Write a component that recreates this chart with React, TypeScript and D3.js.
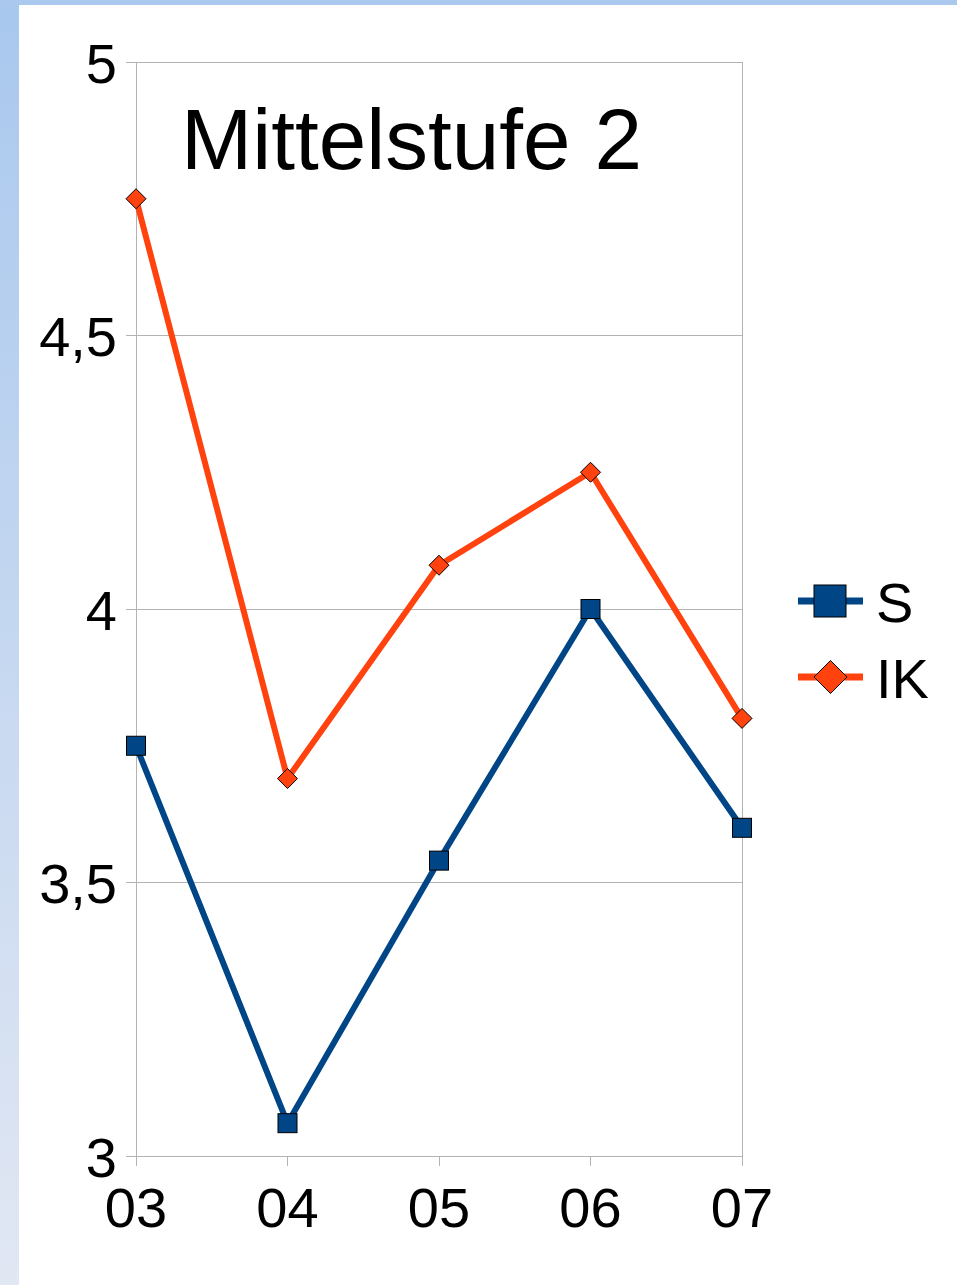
import React from "react";
import * as d3 from "d3";

const categories = ["03", "04", "05", "06", "07"];
const seriesS = [3.75, 3.06, 3.54, 4.0, 3.6];
const seriesIK = [4.75, 3.69, 4.08, 4.25, 3.8];
const yTicks = [3, 3.5, 4, 4.5, 5];
const yTickLabels = ["3", "3,5", "4", "4,5", "5"];
const title = "Mittelstufe 2";
const legendNames = ["S", "IK"];
const colors = ["#004586", "#ff420e"];

const W = 957;
const H = 1285;
const plot = { left: 136, right: 742, top: 62, bottom: 1156 };
const font = "'Liberation Sans', Arial, sans-serif";

export default function App() {
  const x = d3.scalePoint<string>().domain(categories).range([plot.left, plot.right]);
  const y = d3.scaleLinear().domain([3, 5]).range([plot.bottom, plot.top]);
  const line = d3
    .line<number>()
    .x((_, i) => x(categories[i]) as number)
    .y((d) => y(d));
  const gridColor = "#b3b3b3";
  const sq = 19;
  const dm = 10;
  const diamond = (cx: number, cy: number, r: number) =>
    `M${cx},${cy - r}L${cx + r},${cy}L${cx},${cy + r}L${cx - r},${cy}Z`;

  return (
    <div style={{ position: "fixed", left: 0, top: 0 }}>
      <svg width={W} height={H} style={{ display: "block" }}>
        <defs>
          <linearGradient id="bg" x1="0" y1="0" x2="0" y2="1">
            <stop offset="0" stopColor="#a9c8ee" />
            <stop offset="1" stopColor="#e1e7f3" />
          </linearGradient>
        </defs>
        <rect x={0} y={0} width={W} height={H} fill="url(#bg)" />
        <rect x={0} y={0} width={W} height={5} fill="#abc9ef" />
        <rect x={19} y={5} width={W - 19} height={H - 5} fill="#ffffff" />

        {/* grid */}
        {yTicks.map((t) => (
          <line key={"g" + t} x1={plot.left - 10} x2={plot.right} y1={y(t)} y2={y(t)} stroke={gridColor} strokeWidth={1} shapeRendering="crispEdges" />
        ))}
        <line x1={plot.left} x2={plot.left} y1={plot.top} y2={plot.bottom + 10} stroke={gridColor} strokeWidth={1} shapeRendering="crispEdges" />
        <line x1={plot.right} x2={plot.right} y1={plot.top} y2={plot.bottom + 10} stroke={gridColor} strokeWidth={1} shapeRendering="crispEdges" />
        {categories.slice(1, -1).map((c) => (
          <line key={"xt" + c} x1={x(c)} x2={x(c)} y1={plot.bottom} y2={plot.bottom + 10} stroke={gridColor} strokeWidth={1} shapeRendering="crispEdges" />
        ))}

        {/* y labels */}
        {yTicks.map((t, i) => (
          <text key={"yl" + t} x={117} y={y(t) + 20.5} textAnchor="end" fontFamily={font} fontSize={56} fill="#000">
            {yTickLabels[i]}
          </text>
        ))}
        {/* x labels */}
        {categories.map((c) => (
          <text key={"xl" + c} x={x(c)} y={1227} textAnchor="middle" fontFamily={font} fontSize={56} fill="#000">
            {c}
          </text>
        ))}

        {/* title */}
        <text x={411.5} y={169} textAnchor="middle" fontFamily={font} fontSize={85.5} fill="#000">
          {title}
        </text>

        {/* lines */}
        <path d={line(seriesIK) || ""} fill="none" stroke={colors[1]} strokeWidth={6} strokeLinejoin="round" />
        <path d={line(seriesS) || ""} fill="none" stroke={colors[0]} strokeWidth={6} strokeLinejoin="round" />

        {/* markers */}
        {seriesS.map((v, i) => (
          <rect key={"s" + i} x={(x(categories[i]) as number) - sq / 2} y={y(v) - sq / 2} width={sq} height={sq} fill={colors[0]} stroke="#000" strokeWidth={1} />
        ))}
        {seriesIK.map((v, i) => (
          <path key={"k" + i} d={diamond(x(categories[i]) as number, y(v), dm)} fill={colors[1]} stroke="#000" strokeWidth={1} />
        ))}

        {/* legend */}
        {legendNames.map((n, i) => {
          const cy = i === 0 ? 601 : 677;
          return (
            <g key={"lg" + n}>
              <line x1={798} x2={863} y1={cy} y2={cy} stroke={colors[i]} strokeWidth={7} />
              {i === 0 ? (
                <rect x={814} y={cy - 16} width={32} height={32} fill={colors[0]} stroke="#000" strokeWidth={1} />
              ) : (
                <path d={diamond(830.5, cy, 16.5)} fill={colors[1]} stroke="#000" strokeWidth={1} />
              )}
              <text x={876} y={cy + 21} fontFamily={font} fontSize={56} fill="#000">
                {n}
              </text>
            </g>
          );
        })}
      </svg>
    </div>
  );
}
